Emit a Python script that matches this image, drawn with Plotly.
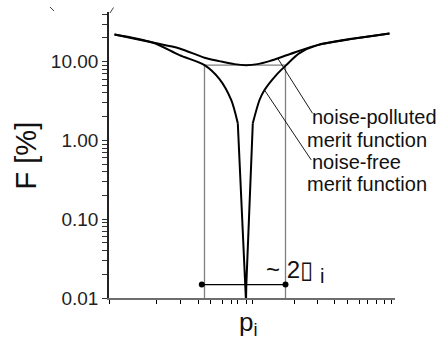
import numpy as np
import plotly.graph_objects as go

# ---- data (arbitrary parameter units, p_i at 0) ----
polluted_x = [-131.5, -93.5, -66.5, -41.5, -26.5, -11.5, 0, 11.5, 23.5, 43.5, 71.5, 143.5]
polluted_F = [22.1, 17.5, 14.7, 11.2, 10.15, 9.30, 9.03, 9.30, 10.15, 12.4, 16.2, 22.7]

free_left_x = [-131.5, -93.5, -66.5, -41.5, -26.5, -14.8, -8.2]
free_left_F = [22.1, 17.5, 12.1, 9.03, 6.0, 3.26, 1.65]
spike_x = [-8.2, -0.3, 0.0, 0.3, 6.8]
spike_F = [1.65, 0.0145, 0.009, 0.0145, 1.65]
free_right_x = [6.8, 13.5, 18.5, 30.2, 40.2, 53.5, 71.5, 143.5]
free_right_F = [1.65, 3.26, 4.36, 6.75, 9.03, 12.8, 16.2, 22.7]

box_x = [-41.5, -41.5, 39.5, 39.5]
box_F = [0.009, 9.03, 9.03, 0.009]

bracket_x = [-44.2, 39.5]
bracket_F = [0.0148, 0.0148]

leader1_x = [31.8, 66.5]
leader1_F = [10.98, 2.21]
leader2_x = [18.5, 65.2]
leader2_F = [4.36, 0.566]

y_major = [0.01, 0.1, 1, 10]
y_major_text = ["0.01", "0.10", "1.00", "10.00"]
y_minor = [k * d for d in (0.01, 0.1, 1, 10) for k in range(2, 10) if k * d <= 40]

x_ticks = [-137, -89.2, -65.5, -47.8, -35.5, -23.8, -14.8, -8.2, 0, 6.8,
           48.5, 71.8, 88.5, 101.8, 113.5, 121.8, 130.2, 138.5, 145.2]

FONT = "Liberation Sans, Arial, sans-serif"

fig = go.Figure()
fig.add_trace(go.Scatter(x=box_x, y=box_F, mode="lines",
                         line=dict(color="#7f7f7f", width=1.3), hoverinfo="skip"))
fig.add_trace(go.Scatter(x=polluted_x, y=polluted_F, mode="lines", name="noise-polluted",
                         line=dict(color="black", width=2, shape="spline", smoothing=0.8)))
fig.add_trace(go.Scatter(x=free_left_x, y=free_left_F, mode="lines", name="noise-free",
                         line=dict(color="black", width=2, shape="spline", smoothing=0.8)))
fig.add_trace(go.Scatter(x=spike_x, y=spike_F, mode="lines", name="noise-free",
                         line=dict(color="black", width=2)))
fig.add_trace(go.Scatter(x=free_right_x, y=free_right_F, mode="lines", name="noise-free",
                         line=dict(color="black", width=2, shape="spline", smoothing=0.8)))
fig.add_trace(go.Scatter(x=bracket_x, y=bracket_F, mode="lines+markers",
                         line=dict(color="black", width=1.2),
                         marker=dict(color="black", size=6)))
fig.add_trace(go.Scatter(x=leader1_x, y=leader1_F, mode="lines",
                         line=dict(color="black", width=0.9)))
fig.add_trace(go.Scatter(x=leader2_x, y=leader2_F, mode="lines",
                         line=dict(color="black", width=0.9)))

yvals = y_major + y_minor
ytext = y_major_text + [""] * len(y_minor)

fig.update_layout(
    width=441, height=342,
    margin=dict(l=109, r=46, t=12, b=44),
    paper_bgcolor="white", plot_bgcolor="white",
    showlegend=False,
    font=dict(family=FONT, color="black"),
    xaxis=dict(range=[-137, 149], showgrid=False, zeroline=False,
               showline=True, linecolor="#6e6e6e", linewidth=2,
               tickvals=x_ticks, showticklabels=False,
               ticks="outside", ticklen=4, tickcolor="black", tickwidth=1.2),
    yaxis=dict(type="log", range=[-2, 1.63], showgrid=False, zeroline=False,
               showline=True, linecolor="#222222", linewidth=1.6,
               tickvals=yvals, ticktext=ytext,
               ticks="outside", ticklen=5, tickcolor="#333333", tickwidth=1.2,
               tickfont=dict(size=19, family=FONT, color="#222222")),
    shapes=[
        dict(type="line", xref="paper", yref="paper", x0=-0.2063, y0=1.0175,
             x1=-0.1923, y1=1.0035, line=dict(color="#444444", width=1)),
        dict(type="line", xref="paper", yref="paper", x0=0.0035, y0=0.9965,
             x1=0.0157, y1=1.0157, line=dict(color="#444444", width=1)),
    ],
)

def ann(text, x, y, size, xanchor="left", xref="x", yref="y", angle=0):
    fig.add_annotation(text=text, x=x, y=y, xref=xref, yref=yref, showarrow=False,
                       xanchor=xanchor, yanchor="middle", textangle=angle,
                       font=dict(size=size, family=FONT, color="#111111"))

ann("noise-polluted", 64.0, np.log10(1.98), 20)
ann("merit function", 59.0, np.log10(1.02), 20)
ann("noise-free", 64.0, np.log10(0.534), 20)
ann("merit function", 59.0, np.log10(0.276), 20)
ann("~ 2\u25AF", 17.5, np.log10(0.0232), 24)
ann("i", 71.5, np.log10(0.0193), 20)
ann("p<sub>i</sub>", 2.5, -0.09, 26, xanchor="center", yref="paper")
ann("F [%]", -0.2885, 0.5, 29, xanchor="center", xref="paper", yref="paper", angle=-90)

fig.write_html("out.html")
